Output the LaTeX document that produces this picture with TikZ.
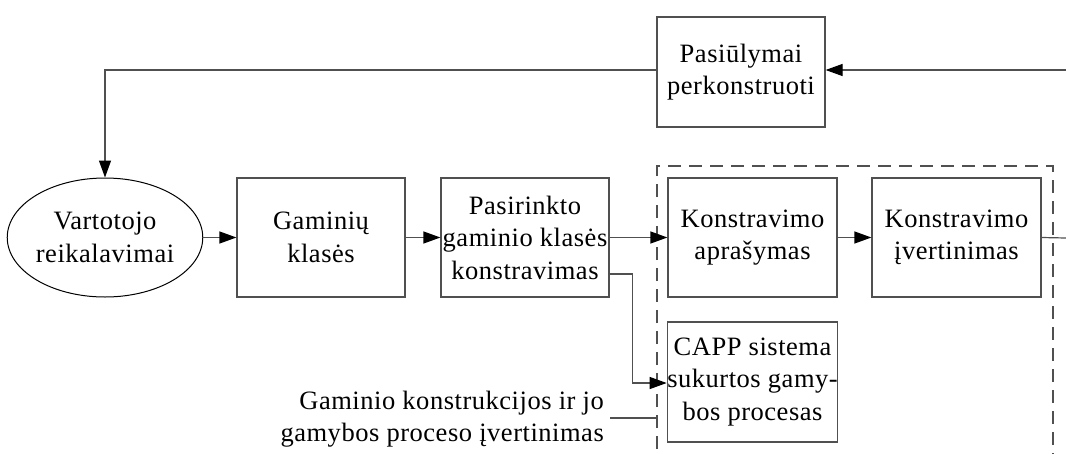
\documentclass[tikz,border=0pt]{standalone}
\usepackage{fontspec}
\setmainfont{Liberation Serif}
\newfontfamily\boxfont{Liberation Serif}[LetterSpace=2]
\usetikzlibrary{arrows.meta,shapes.geometric}
\definecolor{edge}{RGB}{80,80,80}
\tikzset{
  txt/.style={font=\boxfont\fontsize{26.5}{32.5}\selectfont},
  box/.style={txt, draw=edge, line width=1.2pt, rectangle, inner sep=0pt,
    minimum width=168pt, minimum height=119pt, align=center},
  oval/.style={txt, draw=black, line width=1pt, ellipse, inner sep=0pt,
    minimum width=194pt, minimum height=119pt, align=center},
  lbl/.style={txt, inner sep=0pt, align=right},
  link/.style={draw=edge, line width=1.2pt},
  arr/.style={link, -{Triangle[length=17pt,width=12pt,fill=black,color=black]}},
  frame/.style={draw=edge, line width=1.2pt, dash pattern=on 13pt off 8pt}
}
\begin{document}
\begin{tikzpicture}[x=1pt,y=-1pt]
  \useasboundingbox (0,0) rectangle (1066,453);
  \clip (0,0) rectangle (1066,453);

  % dashed frame around the design stage
  \draw[frame] (657,470) -- (657,166) -- (1053,166) -- (1053,470);

  % nodes
  \node[oval] (vart) at (105,237.5) {Vartotojo\\reikalavimai};
  \node[box] (gam) at (321,237.5) {Gaminių\\klasės};
  \node[box] (pas) at (525,237.5) {Pasirinkto\\gaminio klasės\\konstravimas};
  \node[box, minimum width=169pt] (apr) at (752.5,237.5) {Konstravimo\\aprašymas};
  \node[box, minimum width=169pt] (ive) at (956.5,237.5) {Konstravimo\\įvertinimas};
  \node[box, minimum width=169pt, minimum height=120pt] (capp) at (752.5,382) {CAPP sistema\\sukurtos gamy-\\bos procesas};
  \node[box, minimum height=110pt] (pasu) at (741,72) {Pasiūlymai\\perkonstruoti};
  \node[lbl, anchor=east] (eval) at (604,419) {Gaminio konstrukcijos ir jo\\gamybos proceso įvertinimas};

  % free ends at the picture edge and on the frame
  \coordinate (fbR) at (1066,70);
  \coordinate (outR) at (1066,238);
  \coordinate (evend) at (657,418);

  % main chain
  \draw[arr] (vart.east) -- (gam.west);
  \draw[arr] (gam.east) -- (pas.west);
  \draw[arr] (pas.east) -- (apr.west);
  \draw[arr] (apr.east) -- (ive.west);
  \draw[link] (ive.east) -- (outR);

  % branch to process planning
  \draw[arr] ([yshift=-36.5pt]pas.east) -- ++(23,0) |- ([yshift=-1pt]capp.west);

  % evaluation input
  \draw[link] ([xshift=6pt]eval.east |- evend) -- (evend);

  % feedback loop
  \draw[arr] (fbR) -- (pasu.east |- fbR);
  \draw[arr] (pasu.west |- fbR) -- (vart.north |- fbR) -- (vart.north);
\end{tikzpicture}
\end{document}
